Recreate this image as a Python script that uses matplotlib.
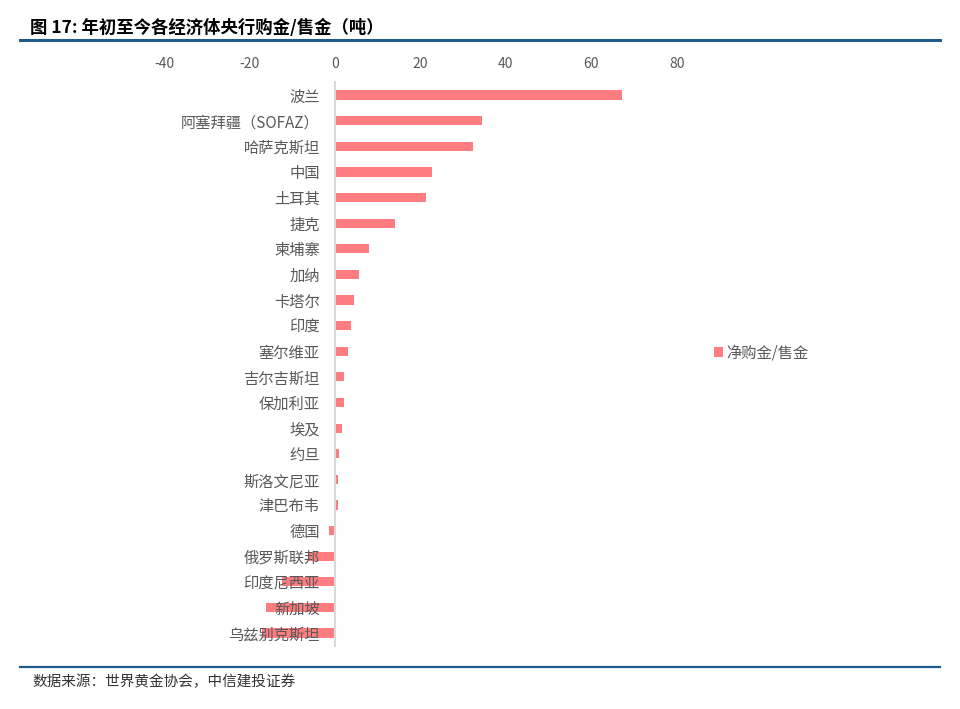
import matplotlib
matplotlib.use("Agg")
import matplotlib.pyplot as plt
import numpy as np

plt.rcParams['font.family'] = ['Noto Sans CJK SC', 'DejaVu Sans']

# Data (tonnes, year to date)
countries = ["波兰", "阿塞拜疆（SOFAZ）", "哈萨克斯坦", "中国", "土耳其", "捷克", "柬埔寨",
             "加纳", "卡塔尔", "印度", "塞尔维亚", "吉尔吉斯坦", "保加利亚", "埃及", "约旦",
             "斯洛文尼亚", "津巴布韦", "德国", "俄罗斯联邦", "印度尼西亚", "新加坡", "乌兹别克斯坦"]
net_tonnes = [67.1, 34.5, 32.4, 22.8, 21.4, 14.0, 8.0,
              5.5, 4.4, 3.8, 3.1, 2.1, 2.0, 1.6, 0.9,
              0.8, 0.8, -1.3, -6.4, -12.5, -16.1, -17.1]
xticks = [-40, -20, 0, 20, 40, 60, 80]
series_name = "净购金/售金"

gray = "#595959"
bar_color = "#FF7C80"
rule_color = "#1F5C8B"

fig = plt.figure(figsize=(9.6, 7.09), dpi=100)
ax = fig.add_axes([0.171, 0.089, 0.534, 0.795])

y = np.arange(len(countries))
ax.barh(y, net_tonnes, height=0.36, color=bar_color, label=series_name, zorder=1)
ax.set_axisbelow(False)  # labels drawn over the negative bars, like the original

ax.set_xlim(-40, 80)
ax.set_ylim(len(countries) - 0.5, -0.5)
ax.set_xticks(xticks)
ax.set_xticklabels([str(t) for t in xticks])
ax.xaxis.tick_top()
ax.tick_params(axis="x", length=0, pad=8, labelsize=10, labelcolor=gray)

ax.set_yticks(y)
ax.set_yticklabels(countries)
ax.tick_params(axis="y", length=0, pad=11, labelsize=11, labelcolor=gray)

for s in ["top", "right", "bottom"]:
    ax.spines[s].set_visible(False)
ax.spines["left"].set_position(("data", 0))
ax.spines["left"].set_color("#D9D9D9")
ax.spines["left"].set_linewidth(1.5)

ax.legend(loc="center left", frameon=False,
          handlelength=0.6, handleheight=0.6, handletextpad=0.25,
          fontsize=11, labelcolor=gray)
leg = ax.get_legend()
leg.set_bbox_to_anchor((0.729, 0.502), transform=fig.transFigure)

# title, rules and source
fig.text(0.031, 0.96, "图 17: 年初至今各经济体央行购金/售金（吨）", fontsize=12.5,
         fontweight="bold", color="black", va="center", ha="left")
fig.add_artist(plt.Line2D([0.021, 0.979], [0.943, 0.943], color=rule_color, linewidth=2.2))
fig.add_artist(plt.Line2D([0.021, 0.979], [0.059, 0.059], color=rule_color, linewidth=1.6))
fig.text(0.034, 0.039, "数据来源：世界黄金协会，中信建投证券", fontsize=10.5,
         color="#333333", va="center", ha="left", style="italic")

fig.savefig("out.png", dpi=100)
